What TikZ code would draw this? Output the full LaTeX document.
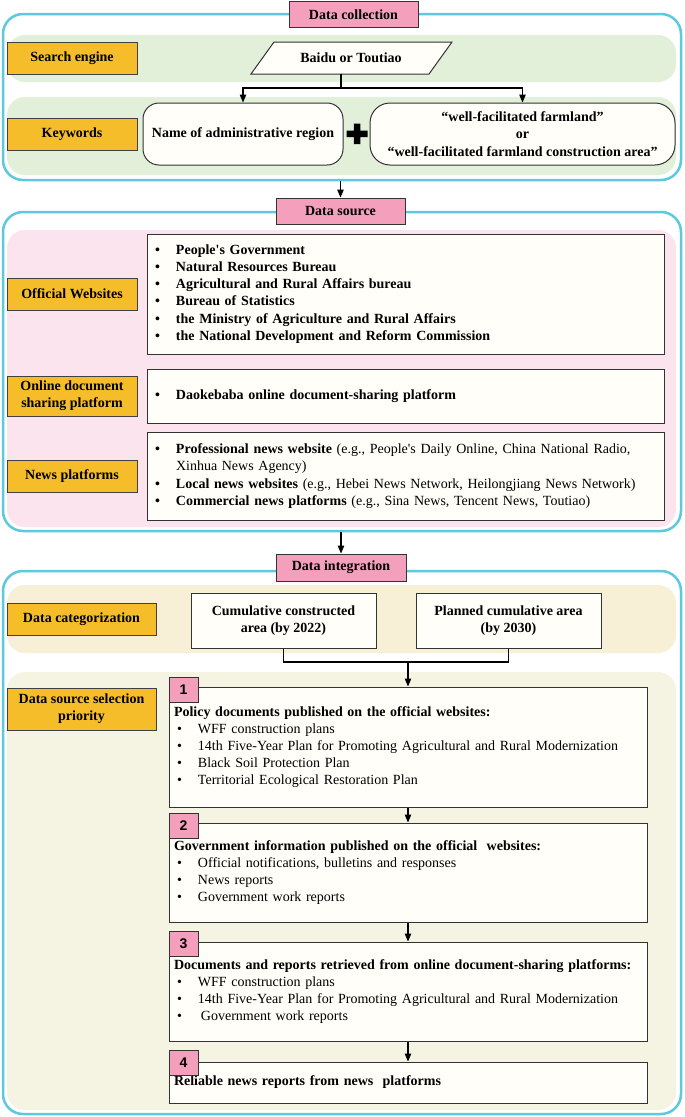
\documentclass[tikz,border=0pt]{standalone}
\usepackage{fontspec}
\setmainfont{Liberation Serif}
\newfontfamily\numfont{Liberation Sans}
\usetikzlibrary{arrows.meta}
\definecolor{frameblue}{HTML}{5CC9DC}
\definecolor{bandgreen}{HTML}{E2EFD9}
\definecolor{bandpink}{HTML}{FCE4EE}
\definecolor{bandtan}{HTML}{F8F0D6}
\definecolor{bandcream}{HTML}{F5F3E2}
\definecolor{labelgold}{HTML}{F5BD29}
\definecolor{tagpink}{HTML}{F4A0BC}
\definecolor{boxwhite}{HTML}{FFFEF8}
\newcommand{\itemdot}{\makebox[21pt][l]{\textbullet}}

\begin{document}
\begin{tikzpicture}[x=1pt,y=-1pt,>={Triangle[length=8pt,width=6.5pt]},line width=1.1pt,
  font=\fontsize{14pt}{17.2pt}\selectfont\bfseries,
  panel/.style={draw=frameblue,fill=white,line width=2.5pt,rounded corners=20pt,minimum width=678pt,inner sep=0pt},
  band/.style={fill=#1,rounded corners=18pt,minimum width=669pt,inner sep=0pt},
  headtag/.style={draw=black!80,fill=tagpink,line width=1pt,minimum width=129pt,minimum height=26pt,inner sep=0pt},
  rowlabel/.style={draw=black!75,fill=labelgold,line width=1pt,minimum width=130pt,minimum height=32pt,inner sep=0pt,align=center},
  listbox/.style={draw=black!80,fill=boxwhite,line width=1pt,inner ysep=0pt,align=left},
  keybox/.style={draw=black!80,fill=boxwhite,line width=1pt,rounded corners=16pt,minimum height=62pt,inner sep=0pt,align=center},
  numtag/.style={draw=black!80,fill=tagpink,line width=1pt,minimum width=29pt,minimum height=25pt,inner sep=0pt,font=\fontsize{14pt}{16pt}\selectfont\numfont\bfseries}]
  \useasboundingbox (0,0) rectangle (685,1117);
  \node[panel,minimum height=166pt] (f1) at (342,97) {};
  \node[panel,minimum height=319pt] (f2) at (342,371.5) {};
  \node[panel,minimum height=543pt] (f3) at (342,842.5) {};
  \node[band=bandgreen,minimum height=47pt] (b1) at (341.5,58.5) {};
  \node[band=bandgreen,minimum height=78pt] (b2) at (341.5,136) {};
  \node[band=bandpink,minimum height=297pt] (b3) at (341.5,378.5) {};
  \node[band=bandtan,minimum height=68pt] (b4) at (341.5,619) {};
  \node[band=bandcream,minimum height=438pt] (b5) at (341.5,891) {};
  \node[headtag] (tcoll) at (353.5,14.5) {Data collection};
  \node[headtag] (tsrc) at (340.5,211) {Data source};
  \node[headtag,minimum width=130pt,minimum height=27pt] (tint) at (341,567.5) {Data integration};
  \node[rowlabel] (lse) at (72,58) {Search engine};
  \node[rowlabel] (lkw) at (72,134) {Keywords};
  \node[rowlabel] (low) at (72,294) {Official Websites};
  \node[rowlabel,minimum height=40pt] (lod) at (72,396) {Online document\\sharing platform};
  \node[rowlabel] (lnp) at (72,476) {News platforms};
  \node[rowlabel,minimum width=149pt] (ldc) at (81.5,619) {Data categorization};
  \node[rowlabel,minimum width=149pt,minimum height=42pt] (ldp) at (81.5,709) {Data source selection\\priority};
  \draw[draw=black!80,fill=boxwhite,line width=1pt] (251,74) -- (274,42) -- (452,42) -- (429,74) -- cycle;
  \node (baidu) at (351,58) {Baidu or Toutiao};
  \coordinate (bdown) at (341,74);
  \node[keybox,minimum width=200pt] (nreg) at (243,134) {Name of administrative region};
  \node[keybox,minimum width=305pt,rounded corners=20pt] (kwd) at (522.5,134) {“well-facilitated farmland”\\or\\“well-facilitated farmland construction area”};
  \fill (346.5,130.5) rectangle (367.5,137) (353.75,123.5) rectangle (360.25,144);
  \draw[->] (bdown) -- ++(0,14) -| (nreg.north);
  \draw[->] (bdown) -- ++(0,14) -| (kwd.north);
  \draw[->] (tsrc.north |- f1.south) -- (tsrc.north);
  \node[listbox,minimum height=120pt,text width=501pt,inner xsep=8pt] (oweb) at (405.5,294) {\itemdot People\textquotesingle s Government\\\itemdot Natural Resources Bureau\\\itemdot Agricultural and Rural Affairs bureau\\\itemdot Bureau of Statistics\\\itemdot the Ministry of Agriculture and Rural Affairs\\\itemdot the National Development and Reform Commission};
  \node[listbox,minimum height=54pt,text width=501pt,inner xsep=8pt] (odoc) at (405.5,396) {\itemdot Daokebaba online document-sharing platform};
  \node[listbox,minimum height=88pt,text width=501pt,inner xsep=8pt] (news) at (405.5,476) {\itemdot Professional news website {\mdseries (e.g., People\textquotesingle s Daily Online, China National Radio,}\\\hspace*{21pt}{\mdseries Xinhua News Agency)}\\\itemdot Local news websites {\mdseries (e.g., Hebei News Network, Heilongjiang News Network)}\\\itemdot Commercial news platforms {\mdseries (e.g., Sina News, Tencent News, Toutiao)}};
  \draw[->] (tint.north |- f2.south) -- (tint.north);
  \node[listbox,align=center,minimum width=185pt,minimum height=55pt,inner sep=0pt] (cum) at (283.5,620.5) {Cumulative constructed\\area (by 2022)};
  \node[listbox,align=center,minimum width=185pt,minimum height=55pt,inner sep=0pt] (plan) at (508.5,620.5) {Planned cumulative area\\(by 2030)};
  \node[listbox,minimum height=120pt,text width=468pt,inner xsep=5pt] (p1) at (408,747) {Policy documents published on the official websites:\\{\mdseries\hspace*{3pt}\itemdot WFF construction plans\\\hspace*{3pt}\itemdot 14th Five-Year Plan for Promoting Agricultural and Rural Modernization\\\hspace*{3pt}\itemdot Black Soil Protection Plan\\\hspace*{3pt}\itemdot Territorial Ecological Restoration Plan}};
  \node[listbox,minimum height=99pt,text width=468pt,inner xsep=5pt] (p2) at (408,872.5) {Government information published on the official\ \ websites:\\{\mdseries\hspace*{3pt}\itemdot Official notifications, bulletins and responses\\\hspace*{3pt}\itemdot News reports\\\hspace*{3pt}\itemdot Government work reports}};
  \node[listbox,minimum height=99pt,text width=468pt,inner xsep=5pt] (p3) at (408,991.5) {Documents and reports retrieved from online document-sharing platforms:\\{\mdseries\hspace*{3pt}\itemdot WFF construction plans\\\hspace*{3pt}\itemdot 14th Five-Year Plan for Promoting Agricultural and Rural Modernization\\\hspace*{3pt}\itemdot\hspace*{3pt}Government work reports}};
  \node[listbox,minimum height=41pt,text width=468pt,inner xsep=5pt] (p4) at (408,1082.5) {Reliable news reports from news\ \ platforms};
  \node[numtag] (n1) at (183.5,689.5) {1};
  \node[numtag] (n2) at (183.5,825.5) {2};
  \node[numtag] (n3) at (183.5,943.5) {3};
  \node[numtag] (n4) at (183.5,1062.5) {4};
  \coordinate (jn) at (408,662);
  \draw (cum.south) |- (jn) -| (plan.south);
  \draw[->] (jn) -- (p1.north);
  \draw[->] (p1.south) -- (p2.north);\draw[->] (p2.south) -- (p3.north);\draw[->] (p3.south) -- (p4.north);
\end{tikzpicture}
\end{document}
